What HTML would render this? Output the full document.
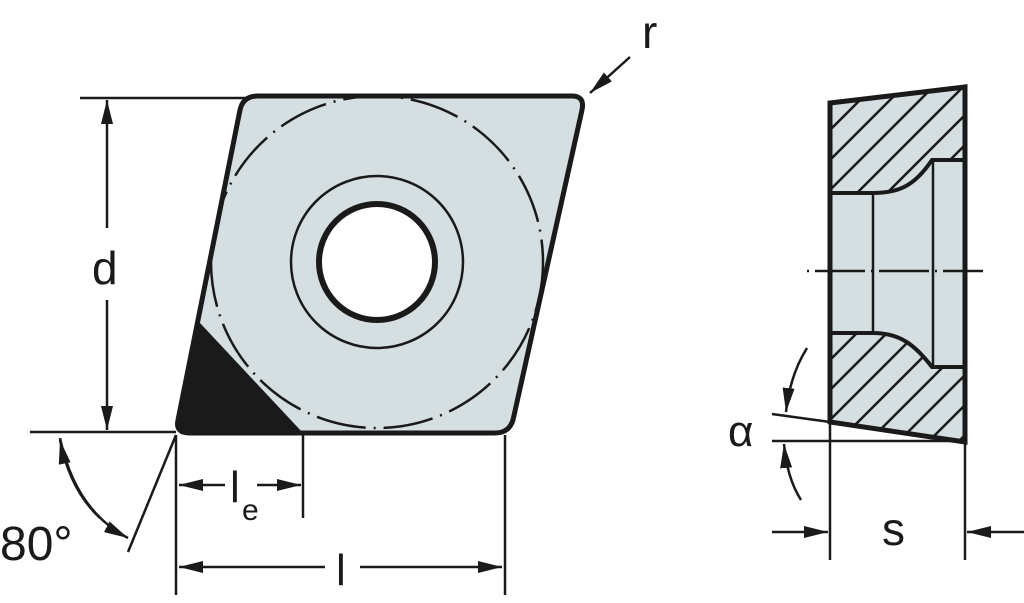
<!DOCTYPE html>
<html><head><meta charset="utf-8"><style>
html,body{margin:0;padding:0;background:#fff;width:1024px;height:603px;overflow:hidden}
svg{display:block}
text{font-family:"Liberation Sans","DejaVu Sans",sans-serif;fill:#1a1a1a}
</style></head><body>
<svg width="1024" height="603" viewBox="0 0 1024 603" xmlns="http://www.w3.org/2000/svg">
<defs>
<marker id="ah" viewBox="0 0 24 12" refX="24" refY="6" markerWidth="24" markerHeight="12" markerUnits="userSpaceOnUse" orient="auto">
<path d="M0,0 L24,6 L0,12 Z" fill="#1a1a1a"/></marker>
<clipPath id="cp"><path d="M258,96 L572,96 Q585,96 582,110 L513,420 Q509,433 495,433 L190,433 Q175,433 178,420 L240,110 Q243,96 258,96 Z"/></clipPath>
<clipPath id="hu"><path d="M830,103 L965,87 L965,160 L932,160 C915,185 900,193 873,193 L830,193 Z"/></clipPath>
<clipPath id="hl"><path d="M830,333 L873,333 C900,333 915,345 932,367 L965,367 L965,442 L830,422 Z"/></clipPath>
</defs>
<g stroke="#1a1a1a" fill="none">
<path d="M258,96 L572,96 Q585,96 582,110 L513,420 Q509,433 495,433 L190,433 Q175,433 178,420 L240,110 Q243,96 258,96 Z" fill="#d5dee1" stroke="none"/>
<g clip-path="url(#cp)">
<circle cx="377" cy="262" r="166" stroke-width="2.5" stroke-dasharray="50,8,2,8"/>
<path d="M200,323 L303,433 L170,433 L170,300 Z" fill="#1a1a1a" stroke="none"/>
</g>
<circle cx="377" cy="262" r="86" stroke-width="2.5"/>
<circle cx="377" cy="262" r="58" fill="#fff" stroke-width="6"/>
<path d="M258,96 L572,96 Q585,96 582,110 L513,420 Q509,433 495,433 L190,433 Q175,433 178,420 L240,110 Q243,96 258,96 Z" stroke-width="5"/>
<g stroke-width="2.5">
<line x1="80" y1="98" x2="248" y2="98"/>
<line x1="30" y1="432" x2="176" y2="432"/>
<line x1="107" y1="228" x2="107" y2="100" marker-end="url(#ah)"/>
<line x1="107" y1="300" x2="107" y2="430" marker-end="url(#ah)"/>
<line x1="176" y1="435" x2="176" y2="595"/>
<line x1="303" y1="435" x2="303" y2="518"/>
<line x1="505" y1="435" x2="505" y2="595"/>
<line x1="225" y1="485" x2="179" y2="485" marker-end="url(#ah)"/>
<line x1="257" y1="485" x2="301" y2="485" marker-end="url(#ah)"/>
<line x1="325" y1="567" x2="179" y2="567" marker-end="url(#ah)"/>
<line x1="360" y1="567" x2="502" y2="567" marker-end="url(#ah)"/>
<line x1="176" y1="435" x2="128" y2="552"/>
<path d="M60,438 Q75,510 128,538" marker-end="url(#ah)"/>
<path d="M100,518 Q70,490 60,440" marker-end="url(#ah)"/>
<line x1="630" y1="57" x2="590" y2="93" marker-end="url(#ah)"/>
</g>
<path d="M830,103 L965,87 L965,442 L830,422 Z" fill="#d5dee1" stroke="none"/>
<g clip-path="url(#hu)" stroke-width="2.5">
<path d="M770,220 L920,70 M800,220 L950,70 M830,220 L980,70 M860,220 L1010,70 M890,220 L1040,70 M740,220 L890,70 M710,220 L860,70"/>
</g>
<g clip-path="url(#hl)" stroke-width="2.5">
<path d="M700,460 L850,310 M730,460 L880,310 M760,460 L910,310 M790,460 L940,310 M820,460 L970,310 M850,460 L1000,310 M880,460 L1030,310 M910,460 L1060,310 M940,460 L1090,310"/>
</g>
<path d="M830,193 L873,193 C900,193 915,185 932,160 L965,160" stroke-width="4"/>
<path d="M830,333 L873,333 C900,333 915,345 932,367 L965,367" stroke-width="4"/>
<line x1="873" y1="193" x2="873" y2="333" stroke-width="2.5"/>
<line x1="933" y1="160" x2="933" y2="367" stroke-width="2.5"/>
<path d="M830,103 L965,87 L965,442 L830,422 Z" stroke-width="5"/>
<line x1="807" y1="271" x2="983" y2="271" stroke-width="2.5" stroke-dasharray="2,6,50,6"/>
<g stroke-width="2.5">
<line x1="772" y1="414" x2="830" y2="422"/>
<line x1="772" y1="441" x2="965" y2="441"/>
<line x1="830" y1="422" x2="830" y2="560"/>
<line x1="965" y1="442" x2="965" y2="560"/>
<line x1="772" y1="532" x2="828" y2="532" marker-end="url(#ah)"/>
<line x1="1024" y1="532" x2="967" y2="532" marker-end="url(#ah)"/>
<path d="M807,348 Q790,375 786,412" marker-end="url(#ah)"/>
<path d="M801,500 Q787,478 784,444" marker-end="url(#ah)"/>
</g>
</g>
<text x="92" y="284" font-size="46">d</text>
<text x="0" y="560" font-size="48">80°</text>
<text x="230" y="502" font-size="44">l</text>
<text x="242" y="520" font-size="30">e</text>
<text x="336" y="585" font-size="44">l</text>
<text x="642" y="48" font-size="46">r</text>
<text x="728" y="446" font-size="44">α</text>
<text x="882" y="545" font-size="46">s</text>
</svg>
</body></html>
